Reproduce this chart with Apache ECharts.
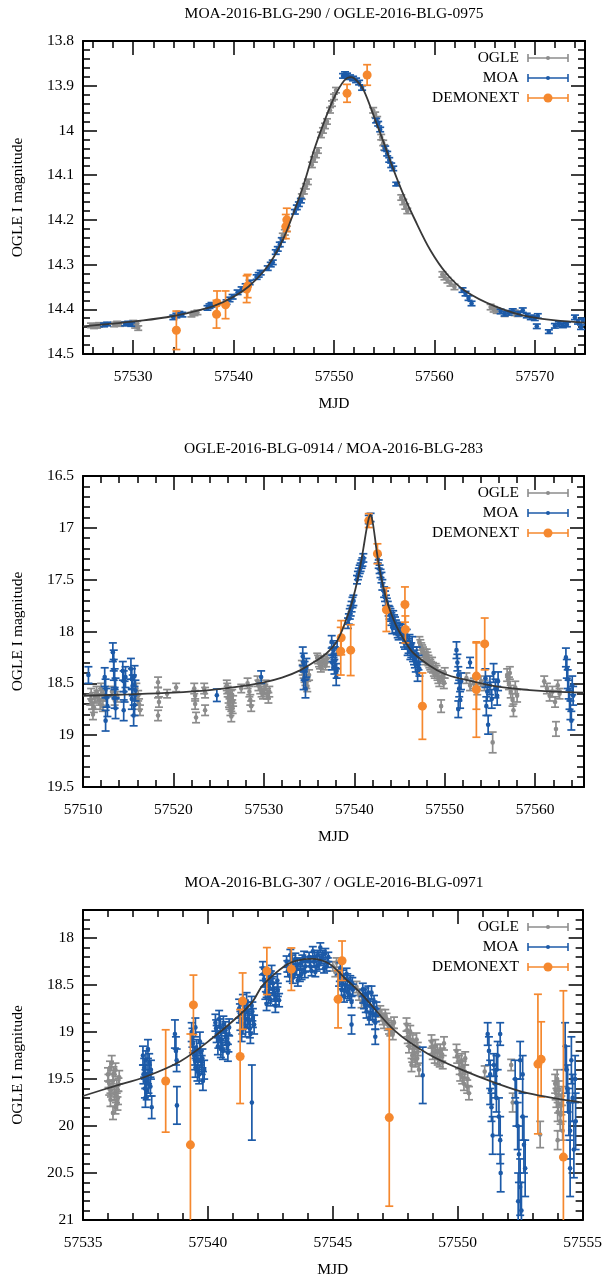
<!DOCTYPE html>
<html>
<head>
<meta charset="utf-8">
<script src="https://cdn.jsdelivr.net/npm/echarts@6.0.0/dist/echarts.min.js"></script>
<style>html,body{margin:0;padding:0;background:#fff}#chart{width:605px;height:1279px}</style>
</head>
<body>
<div id="chart"></div>
<script>
// ---------------- DATA ----------------
const seriesNames = ['OGLE', 'MOA', 'DEMONEXT'];
const titles = ['MOA-2016-BLG-290 / OGLE-2016-BLG-0975', 'OGLE-2016-BLG-0914 / MOA-2016-BLG-283', 'MOA-2016-BLG-307 / OGLE-2016-BLG-0971'];
const xAxisName = 'MJD';
const yAxisName = 'OGLE I magnitude';

// Panel 1
const p1XRange = [57525, 57575];
const p1YRange = [13.8, 14.5];
const p1XTicks = [57530, 57540, 57550, 57560, 57570];
const p1YTicks = [13.8, 13.9, 14, 14.1, 14.2, 14.3, 14.4, 14.5];
const p1Ogle = [
[57525.8,14.436,0.005],[57526.1,14.438,0.005],[57526.4,14.437,0.005],[57526.6,14.435,0.005],
[57528.1,14.434,0.005],[57528.4,14.432,0.005],[57528.7,14.433,0.005],
[57530.0,14.430,0.005],[57530.2,14.437,0.005],[57530.4,14.432,0.005],[57530.5,14.442,0.005],
[57535.8,14.412,0.005],[57536.1,14.409,0.005],[57536.4,14.407,0.005],
[57544.9,14.236,0.006],[57545.1,14.228,0.006],[57545.3,14.220,0.006],
[57546.8,14.148,0.006],[57547.0,14.136,0.006],[57547.2,14.125,0.006],[57547.4,14.115,0.006],
[57547.8,14.077,0.006],[57548.0,14.065,0.006],[57548.2,14.055,0.006],[57548.4,14.045,0.006],
[57548.7,14.010,0.006],[57548.9,14.000,0.006],[57549.1,13.990,0.006],[57549.3,13.980,0.006],
[57549.6,13.955,0.006],[57549.8,13.940,0.006],[57550.0,13.925,0.006],[57550.2,13.910,0.006],
[57553.9,13.955,0.006],[57554.1,13.965,0.006],[57554.3,13.975,0.006],
[57554.7,14.015,0.006],[57554.9,14.028,0.006],[57555.0,14.038,0.006],
[57556.7,14.150,0.006],[57556.9,14.160,0.006],[57557.1,14.170,0.006],[57557.3,14.180,0.006],
[57560.8,14.322,0.006],[57561.0,14.328,0.006],[57561.3,14.335,0.006],[57561.6,14.342,0.006],[57562.0,14.350,0.006],
[57565.6,14.395,0.006],[57565.9,14.400,0.006],[57566.2,14.403,0.006],
[57567.0,14.410,0.006],[57568.0,14.408,0.006],[57568.3,14.410,0.006]
];
const p1Moa = [
[57527.1,14.435,0.004],[57527.4,14.433,0.004],
[57529.2,14.433,0.004],[57529.5,14.431,0.004],[57529.8,14.434,0.004],
[57534.0,14.418,0.005],[57534.3,14.414,0.005],[57534.6,14.410,0.005],[57534.9,14.412,0.005],
[57537.4,14.397,0.005],[57537.6,14.393,0.005],[57537.8,14.390,0.005],
[57539.3,14.384,0.005],[57539.6,14.378,0.005],[57539.9,14.372,0.005],
[57540.4,14.362,0.005],[57540.8,14.355,0.005],[57541.2,14.348,0.005],[57541.6,14.340,0.005],
[57542.3,14.328,0.005],[57542.5,14.323,0.005],[57542.7,14.318,0.005],
[57543.4,14.308,0.005],[57543.7,14.300,0.005],[57543.9,14.295,0.005],
[57544.2,14.272,0.005],[57544.4,14.265,0.005],[57544.6,14.255,0.005],[57544.8,14.245,0.005],
[57546.1,14.182,0.005],[57546.3,14.172,0.005],[57546.5,14.165,0.005],[57546.7,14.157,0.005],
[57550.9,13.878,0.005],[57551.1,13.874,0.005],[57551.3,13.877,0.005],[57551.6,13.881,0.005],[57551.9,13.884,0.005],
[57552.2,13.888,0.005],[57552.5,13.893,0.005],[57552.8,13.905,0.005],
[57554.2,13.978,0.005],[57554.4,13.985,0.005],[57554.6,13.998,0.005],
[57555.1,14.040,0.005],[57555.3,14.052,0.005],[57555.5,14.066,0.005],[57555.7,14.078,0.005],[57555.9,14.085,0.005],
[57556.2,14.120,0.004],
[57562.8,14.357,0.005],[57563.1,14.365,0.005],[57563.4,14.375,0.005],[57563.7,14.387,0.005],
[57566.6,14.405,0.005],[57567.0,14.410,0.005],[57567.4,14.408,0.005],[57567.8,14.404,0.005],[57568.4,14.410,0.005],
[57568.8,14.402,0.005],[57569.2,14.414,0.005],[57569.6,14.418,0.005],[57570.0,14.420,0.005],[57570.3,14.415,0.005],[57570.2,14.438,0.005],
[57571.4,14.450,0.004],
[57572.0,14.437,0.005],[57572.4,14.433,0.005],[57572.8,14.436,0.005],[57573.2,14.434,0.005],
[57574.0,14.418,0.005],[57574.3,14.428,0.005],[57574.6,14.440,0.005],[57574.8,14.425,0.005]
];
const p1Demo = [
[57534.3,14.447,0.043],[57538.3,14.411,0.031],[57538.35,14.386,0.027],[57539.2,14.390,0.031],
[57541.3,14.355,0.030],[57541.4,14.348,0.026],[57545.2,14.215,0.027],[57545.3,14.200,0.026],
[57551.3,13.917,0.020],[57553.3,13.876,0.023]
];
const p1Model = [
[57525,14.438],[57528,14.432],[57531,14.425],[57534,14.415],[57536,14.405],[57538,14.393],[57540,14.372],
[57541.5,14.349],[57543,14.315],[57544,14.283],[57545,14.240],[57546,14.183],[57547,14.120],[57548,14.045],
[57549,13.982],[57550,13.927],[57551,13.889],[57551.7,13.881],[57552.4,13.892],[57553,13.912],[57554,13.970],
[57555,14.030],[57556,14.092],[57557,14.148],[57558,14.197],[57559.6,14.268],[57561.2,14.320],[57563,14.358],
[57566,14.393],[57569.5,14.417],[57575,14.430]
];

// Panel 2
const p2XRange = [57510, 57565.4];
const p2YRange = [16.5, 19.5];
const p2XTicks = [57510, 57520, 57530, 57540, 57550, 57560];
const p2YTicks = [16.5, 17, 17.5, 18, 18.5, 19, 19.5];
const p2Ogle = [
[57510.8,18.66,0.05],[57510.9,18.60,0.05],[57511.0,18.70,0.05],[57511.1,18.80,0.05],[57511.2,18.73,0.05],[57511.3,18.64,0.05],[57511.5,18.58,0.05],[57511.6,18.62,0.05],[57511.8,18.66,0.05],[57511.9,18.70,0.05],[57512.0,18.55,0.05],[57512.1,18.60,0.05],[57512.2,18.72,0.05],[57512.3,18.62,0.05],
[57513.2,18.58,0.05],[57513.5,18.66,0.05],[57513.8,18.63,0.05],
[57515.9,18.55,0.05],[57516.0,18.66,0.05],[57516.1,18.62,0.05],[57516.2,18.70,0.05],[57516.3,18.76,0.05],
[57518.3,18.49,0.05],[57518.3,18.59,0.05],[57518.4,18.68,0.05],[57518.3,18.81,0.05],
[57519.3,18.60,0.04],[57520.3,18.54,0.04],
[57522.3,18.55,0.05],[57522.4,18.62,0.05],[57522.4,18.70,0.05],[57522.5,18.83,0.05],
[57523.4,18.55,0.05],[57523.5,18.59,0.05],[57523.5,18.76,0.05],
[57525.9,18.52,0.05],[57525.95,18.55,0.05],[57526.0,18.58,0.05],[57526.1,18.64,0.05],[57526.15,18.68,0.05],[57526.2,18.70,0.05],[57526.3,18.76,0.05],[57526.35,18.62,0.05],[57526.4,18.82,0.05],[57526.5,18.61,0.05],[57526.55,18.74,0.05],[57526.6,18.67,0.05],
[57527.5,18.55,0.04],
[57528.2,18.50,0.05],[57528.4,18.58,0.05],[57528.5,18.66,0.05],[57528.6,18.72,0.05],
[57529.3,18.48,0.05],[57529.4,18.52,0.05],[57529.6,18.55,0.05],[57529.75,18.58,0.05],[57529.9,18.60,0.05],[57530.05,18.56,0.05],[57530.2,18.52,0.05],[57530.35,18.60,0.05],[57530.5,18.64,0.05],[57530.6,18.58,0.05],
[57534.2,18.33,0.05],[57534.3,18.37,0.05],[57534.4,18.40,0.05],[57534.5,18.44,0.05],[57534.6,18.47,0.05],[57534.7,18.50,0.05],[57534.8,18.53,0.05],[57535.0,18.42,0.05],
[57535.9,18.25,0.04],[57536.0,18.27,0.04],[57536.1,18.30,0.04],[57536.2,18.32,0.04],[57536.3,18.35,0.04],[57536.45,18.30,0.04],[57536.6,18.28,0.04],[57536.8,18.33,0.04],[57536.9,18.30,0.04],[57537.0,18.26,0.04],
[57547.2,18.10,0.05],[57547.3,18.13,0.05],[57547.4,18.16,0.05],[57547.5,18.18,0.05],[57547.6,18.20,0.05],[57547.7,18.22,0.05],[57547.8,18.24,0.05],[57547.9,18.27,0.05],[57548.0,18.22,0.05],[57548.1,18.25,0.05],[57548.2,18.28,0.05],[57548.3,18.30,0.05],[57548.4,18.32,0.05],[57548.5,18.34,0.05],[57548.6,18.30,0.05],[57548.7,18.35,0.05],
[57548.8,18.38,0.05],[57548.9,18.40,0.05],[57549.0,18.36,0.05],[57549.1,18.38,0.05],[57549.2,18.42,0.05],[57549.3,18.45,0.05],[57549.4,18.48,0.05],[57549.6,18.72,0.06],[57549.7,18.43,0.05],[57549.8,18.45,0.05],[57549.9,18.50,0.05],[57550.0,18.40,0.05],
[57552.4,18.45,0.05],[57552.8,18.52,0.05],[57553.2,18.50,0.05],[57553.6,18.56,0.05],[57554.0,18.48,0.05],[57554.4,18.52,0.05],
[57555.3,19.07,0.10],
[57556.9,18.42,0.06],[57557.1,18.50,0.06],[57557.2,18.40,0.06],[57557.3,18.58,0.06],[57557.5,18.66,0.06],[57557.6,18.76,0.06],[57557.8,18.54,0.06],[57558.0,18.62,0.06],
[57561.0,18.48,0.05],[57561.3,18.55,0.05],[57561.6,18.62,0.05],[57561.9,18.58,0.05],[57562.2,18.68,0.05],[57562.3,18.94,0.07],[57562.5,18.52,0.05],[57562.7,18.60,0.05]
];
const p2Moa = [
[57510.6,18.42,0.08],
[57512.4,18.44,0.09],[57512.5,18.55,0.09],[57512.6,18.64,0.09],[57512.5,18.86,0.10],[57512.7,18.72,0.10],
[57513.3,18.20,0.09],[57513.4,18.28,0.10],[57513.4,18.37,0.10],[57513.5,18.46,0.10],[57513.6,18.55,0.10],[57513.5,18.64,0.10],[57513.6,18.74,0.10],
[57514.4,18.38,0.09],[57514.5,18.48,0.10],[57514.7,18.44,0.10],[57514.6,18.58,0.10],[57514.5,18.76,0.10],
[57515.3,18.36,0.10],[57515.4,18.46,0.10],[57515.5,18.52,0.10],[57515.4,18.65,0.10],[57515.6,18.81,0.10],[57515.7,18.43,0.10],[57515.8,18.57,0.10],[57515.7,18.71,0.10],
[57524.8,18.615,0.06],
[57529.7,18.44,0.06],
[57534.3,18.24,0.09],[57534.4,18.30,0.09],[57534.5,18.38,0.09],[57534.4,18.47,0.09],[57534.6,18.55,0.09],[57534.7,18.35,0.09],
[57537.5,18.10,0.06],[57537.55,18.30,0.07],[57537.6,18.22,0.07],[57537.7,18.18,0.07],[57537.8,18.34,0.07],[57537.9,18.28,0.07],[57538.0,18.44,0.08],[57538.05,18.38,0.07],[57538.1,18.16,0.07],
[57539.3,17.92,0.05],[57539.4,17.88,0.05],[57539.5,17.83,0.05],[57539.6,17.80,0.05],[57539.7,17.76,0.05],[57539.8,17.72,0.05],[57539.9,17.70,0.05],
[57540.3,17.50,0.04],[57540.4,17.46,0.04],[57540.5,17.43,0.04],[57540.6,17.40,0.04],[57540.7,17.38,0.04],[57540.8,17.35,0.04],[57540.9,17.33,0.04],[57541.0,17.29,0.04],
[57541.6,16.92,0.04],[57541.8,16.90,0.04],
[57542.6,17.30,0.04],[57542.7,17.35,0.04],[57542.8,17.40,0.04],[57542.9,17.44,0.04],[57543.0,17.48,0.05],[57543.1,17.55,0.05],
[57543.3,17.62,0.05],[57543.4,17.66,0.05],[57543.5,17.70,0.05],[57543.6,17.73,0.05],[57543.7,17.76,0.05],[57543.8,17.80,0.05],[57543.9,17.82,0.06],[57544.0,17.84,0.06],[57544.1,17.88,0.06],[57544.2,17.96,0.06],[57544.3,17.86,0.06],[57544.4,17.90,0.06],[57544.5,17.92,0.06],[57544.6,17.95,0.06],[57544.7,17.97,0.06],[57544.8,18.00,0.06],[57544.9,18.02,0.06],[57545.0,17.98,0.06],
[57545.3,18.00,0.07],[57545.4,18.04,0.07],[57545.5,18.08,0.07],[57545.6,18.10,0.07],[57545.8,18.05,0.07],[57545.9,18.16,0.07],[57546.0,18.14,0.07],[57546.1,18.10,0.07],[57546.2,18.20,0.07],[57546.3,18.18,0.07],[57546.4,18.12,0.07],[57546.5,18.22,0.07],[57546.6,18.25,0.07],[57546.7,18.28,0.07],[57546.8,18.32,0.07],[57546.9,18.22,0.07],[57547.0,18.40,0.08],[57547.1,18.30,0.07],[57547.2,18.36,0.07],
[57551.3,18.18,0.08],[57551.4,18.30,0.08],[57551.5,18.42,0.08],[57551.5,18.75,0.08],[57551.6,18.55,0.08],[57551.7,18.66,0.08],[57551.8,18.48,0.08],
[57552.8,18.30,0.05],
[57554.5,18.45,0.09],[57554.6,18.72,0.09],[57554.7,18.58,0.09],[57554.8,18.90,0.09],[57555.0,18.52,0.09],[57555.2,18.65,0.09],[57555.4,18.40,0.09],[57555.6,18.55,0.09],[57555.8,18.62,0.09],[57555.9,18.48,0.09],
[57563.4,18.25,0.09],[57563.5,18.36,0.09],[57563.6,18.46,0.09],[57563.7,18.56,0.09],[57563.8,18.66,0.09],[57563.9,18.76,0.09],[57564.0,18.86,0.09],[57564.1,18.52,0.09],[57564.2,18.62,0.09]
];
const p2Demo = [
[57538.55,18.06,0.165],[57538.5,18.19,0.23],[57539.6,18.18,0.245],
[57541.6,16.93,0.067],[57542.56,17.25,0.096],[57543.55,17.79,0.21],
[57545.6,17.74,0.17],[57545.65,17.98,0.13],[57547.53,18.72,0.32],
[57553.5,18.43,0.32],[57553.5,18.56,0.46],[57554.42,18.12,0.25]
];
const p2Model = [
[57510,18.62],[57515,18.607],[57520,18.59],[57524,18.566],[57527,18.535],[57530,18.49],[57532,18.445],[57534,18.375],
[57536,18.27],[57537,18.205],[57538,18.105],[57538.7,17.98],[57539.2,17.86],[57539.6,17.76],[57540.1,17.60],[57540.6,17.40],
[57541,17.20],[57541.34,17.02],[57541.6,16.91],[57541.78,16.875],[57542,16.93],[57542.26,17.08],[57542.5,17.24],[57542.8,17.40],
[57543.2,17.57],[57543.55,17.69],[57544,17.81],[57544.66,17.95],[57545.5,18.08],[57546.5,18.205],[57548.34,18.33],[57550,18.41],
[57552,18.46],[57555.7,18.53],[57559.4,18.565],[57562,18.58],[57565.4,18.59]
];

// Panel 3
const p3XRange = [57535, 57555];
const p3YRange = [17.7, 21];
const p3XTicks = [57535, 57540, 57545, 57550, 57555];
const p3YTicks = [18, 18.5, 19, 19.5, 20, 20.5, 21];
const p3Ogle = [
[57536.0,19.45,0.07],[57536.02,19.52,0.07],[57536.05,19.60,0.07],[57536.08,19.38,0.07],[57536.1,19.72,0.07],[57536.12,19.62,0.07],[57536.15,19.33,0.08],[57536.2,19.52,0.07],[57536.22,19.44,0.07],[57536.25,19.65,0.07],[57536.3,19.80,0.07],[57536.32,19.68,0.07],[57536.35,19.58,0.07],[57536.38,19.76,0.07],[57536.4,19.70,0.07],[57536.42,19.56,0.07],[57536.45,19.48,0.07],[57536.2,19.86,0.07],[57536.3,19.40,0.07],
[57545.0,18.30,0.05],[57545.1,18.36,0.05],[57545.15,18.26,0.05],
[57545.95,18.52,0.06],[57546.05,18.60,0.06],[57546.15,18.68,0.06],
[57546.9,18.78,0.06],[57546.95,18.82,0.06],[57547.0,18.86,0.06],[57547.05,18.90,0.06],[57547.1,18.82,0.06],[57547.15,18.86,0.06],[57547.2,18.92,0.06],[57547.25,18.96,0.06],[57547.3,18.98,0.06],[57547.35,18.94,0.06],[57547.4,19.02,0.06],[57547.45,18.90,0.06],
[57547.95,18.92,0.07],[57547.98,18.98,0.07],[57548.0,19.05,0.07],[57548.05,19.15,0.07],[57548.08,19.08,0.07],[57548.1,19.00,0.07],[57548.15,19.35,0.07],[57548.18,19.25,0.07],[57548.2,19.10,0.07],[57548.25,19.22,0.07],[57548.28,19.15,0.07],[57548.3,19.30,0.07],[57548.35,19.08,0.07],[57548.38,19.28,0.07],[57548.4,19.18,0.07],[57548.45,19.40,0.07],
[57548.95,19.10,0.07],[57548.98,19.16,0.07],[57549.0,19.22,0.07],[57549.08,19.26,0.07],[57549.1,19.15,0.07],[57549.18,19.20,0.07],[57549.2,19.28,0.07],[57549.28,19.30,0.07],[57549.3,19.20,0.07],[57549.38,19.24,0.07],[57549.4,19.32,0.07],[57549.45,19.12,0.07],
[57549.95,19.20,0.07],[57549.98,19.26,0.07],[57550.05,19.32,0.07],[57550.08,19.38,0.07],[57550.1,19.45,0.07],[57550.15,19.30,0.07],[57550.18,19.48,0.07],[57550.2,19.38,0.07],[57550.25,19.55,0.07],[57550.28,19.42,0.07],[57550.3,19.28,0.07],[57550.38,19.58,0.07],[57550.4,19.50,0.07],[57550.45,19.65,0.07],
[57551.08,19.42,0.06],[57552.14,19.35,0.06],[57552.2,19.75,0.10],
[57553.3,20.09,0.14],
[57553.9,19.55,0.10],[57553.92,19.62,0.10],[57553.95,19.70,0.10],[57553.98,19.50,0.10],[57554.0,19.85,0.10],[57554.02,19.76,0.10],[57554.05,19.62,0.10],[57554.1,19.95,0.10],[57554.12,19.88,0.10],[57554.15,19.78,0.10],[57554.18,19.68,0.10],[57554.2,20.05,0.10],[57554.0,20.15,0.10]
];
const p3Moa = [
[57537.4,19.25,0.10],[57537.42,19.45,0.10],[57537.45,19.38,0.10],[57537.48,19.60,0.10],[57537.5,19.50,0.10],[57537.52,19.30,0.10],[57537.55,19.62,0.10],[57537.6,19.45,0.10],[57537.62,19.55,0.10],[57537.65,19.33,0.10],[57537.7,19.58,0.10],[57537.72,19.40,0.10],[57537.75,19.80,0.12],[57537.5,19.70,0.10],[57537.6,19.18,0.10],
[57538.68,19.02,0.15],[57538.72,19.20,0.15],[57538.75,19.30,0.12],[57538.76,19.78,0.20],
[57539.35,19.00,0.10],[57539.38,19.06,0.10],[57539.4,19.12,0.10],[57539.45,19.25,0.10],[57539.48,19.30,0.10],[57539.5,19.38,0.10],[57539.55,19.18,0.10],[57539.58,19.42,0.10],[57539.6,19.30,0.10],[57539.65,19.45,0.10],[57539.68,19.10,0.10],[57539.7,19.22,0.10],[57539.75,19.35,0.10],[57539.78,19.28,0.10],[57539.8,19.52,0.10],[57539.85,19.40,0.10],[57539.5,18.95,0.10],
[57540.3,18.90,0.09],[57540.33,18.96,0.09],[57540.35,19.02,0.09],[57540.4,19.15,0.09],[57540.42,19.08,0.09],[57540.5,18.95,0.09],[57540.52,19.18,0.09],[57540.55,19.08,0.09],[57540.6,19.20,0.09],[57540.62,18.92,0.09],[57540.7,18.98,0.09],[57540.72,19.05,0.09],[57540.75,19.10,0.09],[57540.8,19.22,0.09],[57540.82,19.12,0.09],[57540.85,18.95,0.09],[57540.45,18.86,0.09],
[57541.25,18.75,0.10],[57541.28,18.80,0.10],[57541.3,18.88,0.10],[57541.35,19.00,0.10],[57541.38,18.92,0.10],[57541.4,18.70,0.10],[57541.45,18.82,0.10],[57541.48,18.76,0.10],[57541.5,18.95,0.10],[57541.55,18.68,0.10],[57541.58,18.86,0.10],[57541.6,18.78,0.10],[57541.65,18.90,0.10],[57541.68,18.96,0.10],[57541.7,19.02,0.10],[57541.75,18.72,0.10],[57541.78,18.78,0.10],[57541.8,18.85,0.10],[57541.85,18.92,0.10],
[57541.76,19.75,0.40],
[57542.2,18.32,0.07],[57542.22,18.38,0.07],[57542.25,18.45,0.07],[57542.3,18.58,0.07],[57542.32,18.50,0.07],[57542.35,18.70,0.07],[57542.4,18.40,0.07],[57542.42,18.62,0.07],[57542.45,18.52,0.07],[57542.5,18.65,0.07],[57542.52,18.42,0.07],[57542.55,18.36,0.07],[57542.6,18.48,0.07],[57542.62,18.54,0.07],[57542.65,18.60,0.07],[57542.7,18.72,0.07],[57542.72,18.64,0.07],[57542.78,18.45,0.07],[57542.8,18.55,0.07],[57542.85,18.66,0.07],
[57543.15,18.25,0.06],[57543.18,18.30,0.06],[57543.2,18.35,0.06],[57543.28,18.40,0.06],[57543.3,18.18,0.06],[57543.35,18.30,0.06],[57543.38,18.24,0.06],[57543.4,18.42,0.06],[57543.48,18.36,0.06],[57543.5,18.22,0.06],[57543.55,18.33,0.06],[57543.58,18.28,0.06],[57543.6,18.45,0.06],[57543.68,18.40,0.06],[57543.7,18.27,0.06],[57543.75,18.38,0.06],[57543.78,18.24,0.06],[57543.85,18.20,0.06],[57543.88,18.36,0.06],[57543.9,18.30,0.06],
[57544.05,18.20,0.05],[57544.08,18.25,0.05],[57544.1,18.30,0.05],[57544.15,18.35,0.05],[57544.2,18.14,0.05],[57544.25,18.25,0.05],[57544.28,18.20,0.05],[57544.3,18.36,0.05],[57544.35,18.30,0.05],[57544.4,18.18,0.05],[57544.45,18.28,0.05],[57544.48,18.24,0.05],[57544.5,18.10,0.05],[57544.55,18.22,0.05],[57544.6,18.18,0.05],[57544.65,18.32,0.05],[57544.7,18.16,0.05],[57544.75,18.30,0.05],[57544.8,18.26,0.05],[57544.82,18.20,0.05],
[57545.25,18.45,0.06],[57545.28,18.40,0.06],[57545.3,18.32,0.06],[57545.35,18.55,0.06],[57545.38,18.48,0.06],[57545.4,18.40,0.06],[57545.45,18.62,0.06],[57545.48,18.56,0.06],[57545.5,18.50,0.06],[57545.55,18.38,0.06],[57545.58,18.44,0.06],[57545.6,18.58,0.06],[57545.68,18.60,0.06],[57545.7,18.46,0.06],[57545.75,18.68,0.06],[57545.78,18.48,0.06],[57545.8,18.55,0.06],[57545.75,18.92,0.10],
[57546.2,18.55,0.07],[57546.22,18.62,0.07],[57546.25,18.68,0.07],[57546.3,18.60,0.07],[57546.32,18.72,0.07],[57546.35,18.78,0.07],[57546.4,18.65,0.07],[57546.42,18.58,0.07],[57546.45,18.85,0.07],[57546.5,18.72,0.07],[57546.52,18.80,0.07],[57546.55,18.58,0.07],[57546.6,18.80,0.07],[57546.62,18.74,0.07],[57546.65,18.68,0.07],[57546.7,18.90,0.07],[57546.72,18.82,0.07],[57546.7,19.05,0.08],[57546.75,18.75,0.07],
[57548.6,19.46,0.30],
[57551.2,19.02,0.12],[57551.25,19.20,0.15],[57551.3,19.45,0.15],[57551.3,19.62,0.15],[57551.35,19.80,0.15],[57551.4,20.10,0.20],[57551.45,19.35,0.12],[57551.5,19.55,0.15],[57551.55,19.70,0.15],[57551.55,19.40,0.15],[57551.6,19.25,0.15],[57551.65,19.90,0.20],[57551.7,20.15,0.25],[57551.72,20.50,0.20],[57551.7,19.02,0.12],
[57552.3,19.50,0.20],[57552.35,19.75,0.25],[57552.4,20.00,0.25],[57552.42,20.80,0.30],[57552.45,20.30,0.30],[57552.5,20.65,0.30],[57552.5,19.30,0.20],[57552.55,20.90,0.30],[57552.6,19.45,0.20],[57552.6,19.90,0.25],[57552.65,20.20,0.30],[57552.7,20.45,0.30],
[57554.3,19.15,0.25],[57554.35,19.40,0.25],[57554.4,19.60,0.25],[57554.45,19.85,0.25],[57554.5,20.05,0.30],[57554.5,20.45,0.30],[57554.55,19.30,0.25],[57554.6,19.70,0.25],[57554.65,20.25,0.30],[57554.7,19.50,0.25],[57554.72,19.95,0.30]
];
const p3Demo = [
[57538.31,19.52,0.545],[57539.3,20.2,1.18],[57539.42,18.71,0.317],
[57541.29,19.26,0.50],[57541.39,18.67,0.30],[57542.36,18.35,0.25],[57543.34,18.33,0.226],
[57545.21,18.65,0.305],[57545.37,18.24,0.21],[57547.26,19.91,0.943],
[57553.21,19.34,0.743],[57553.34,19.29,0.40],[57554.23,20.33,1.77]
];
const p3Model = [
[57535,19.68],[57536.2,19.58],[57537.5,19.475],[57538.9,19.31],[57540.2,19.06],[57541.3,18.81],[57541.8,18.67],[57542.2,18.50],
[57543.1,18.29],[57543.6,18.235],[57544.18,18.22],[57544.84,18.27],[57545.5,18.43],[57546.17,18.60],[57547.5,18.99],[57548.8,19.23],
[57550.15,19.40],[57551.5,19.54],[57552.8,19.65],[57555,19.75]
];

// ---------------- STYLE / LAYOUT ----------------
const FONT = '"Liberation Serif", "Times New Roman", serif';
const FS = 15.5;
const C = { ogle: '#8c8c8c', moa: '#1c5aa8', demo: '#f5882e', model: '#383838', text: '#000' };
const GRIDS = [
  { left: 83, top: 41, width: 502, height: 313 },
  { left: 83, top: 476, width: 501, height: 311 },
  { left: 83, top: 910, width: 502, height: 316 }
];
const PANELS = [
  { xr: p1XRange, yr: p1YRange, xt: p1XTicks, yt: p1YTicks, xStep: 2, yStep: 0.02, ogle: p1Ogle, moa: p1Moa, demo: p1Demo, model: p1Model },
  { xr: p2XRange, yr: p2YRange, xt: p2XTicks, yt: p2YTicks, xStep: 2, yStep: 0.1, ogle: p2Ogle, moa: p2Moa, demo: p2Demo, model: p2Model },
  { xr: p3XRange, yr: p3YRange, xt: p3XTicks, yt: p3YTicks, xStep: 1, yStep: 0.1, ogle: p3Ogle, moa: p3Moa, demo: p3Demo, model: p3Model }
];

function minorValues(lo, hi, step, majors) {
  const out = [];
  const n0 = Math.ceil(lo / step - 1e-6), n1 = Math.floor(hi / step + 1e-6);
  for (let n = n0; n <= n1; n++) {
    const v = +(n * step).toFixed(6);
    if (Math.abs(v - lo) < 1e-6 || Math.abs(v - hi) < 1e-6) continue;
    if (majors.some(m => Math.abs(m - v) < 1e-6)) continue;
    out.push(v);
  }
  return out;
}

const lineSt = { color: '#000', width: 2 };
const tickSt = { color: '#000', width: 1.5 };
const labelSt = { color: C.text, fontFamily: FONT, fontSize: FS };

function xAxisDef(g, p, pos, major, withLabel) {
  const vals = major ? p.xt : minorValues(p.xr[0], p.xr[1], p.xStep, p.xt);
  const a = {
    gridIndex: g, type: 'value', position: pos, min: p.xr[0], max: p.xr[1],
    axisLine: { show: major, onZero: false, lineStyle: lineSt },
    axisTick: { show: true, inside: true, length: major ? 14 : 7, customValues: vals, lineStyle: tickSt },
    axisLabel: withLabel ? Object.assign({ show: true, customValues: p.xt, margin: 15, formatter: v => String(v) }, labelSt) : { show: false },
    splitLine: { show: false }, minorTick: { show: false }, axisPointer: { show: false }
  };
  if (withLabel) {
    a.name = xAxisName; a.nameLocation = 'middle'; a.nameGap = 42;
    a.nameTextStyle = labelSt;
  }
  return a;
}
function yAxisDef(g, p, pos, major, withLabel) {
  const vals = major ? p.yt : minorValues(p.yr[0], p.yr[1], p.yStep, p.yt);
  const a = {
    gridIndex: g, type: 'value', position: pos, inverse: true, min: p.yr[0], max: p.yr[1],
    axisLine: { show: major, onZero: false, lineStyle: lineSt },
    axisTick: { show: true, inside: true, length: major ? 14 : 7, customValues: vals, lineStyle: tickSt },
    axisLabel: withLabel ? Object.assign({ show: true, customValues: p.yt, margin: 9, formatter: v => String(v) }, labelSt) : { show: false },
    splitLine: { show: false }, minorTick: { show: false }, axisPointer: { show: false }
  };
  if (withLabel) {
    a.name = yAxisName; a.nameLocation = 'middle'; a.nameGap = 57;
    a.nameTextStyle = labelSt;
  }
  return a;
}

function errRender(color, r, cap, lw) {
  return function (params, api) {
    const cs = params.coordSys;
    const x = api.value(0), y = api.value(1), e = api.value(2);
    const p = api.coord([x, y]);
    const a = api.coord([x, y - e]);
    const b = api.coord([x, y + e]);
    const top = Math.min(a[1], b[1]), bot = Math.max(a[1], b[1]);
    const y0 = cs.y, y1 = cs.y + cs.height;
    const st = { stroke: color, lineWidth: lw };
    const ch = [];
    const lt = Math.max(top, y0), lb = Math.min(bot, y1);
    if (lb > lt) ch.push({ type: 'line', shape: { x1: p[0], y1: lt, x2: p[0], y2: lb }, style: st });
    if (top >= y0 && top <= y1) ch.push({ type: 'line', shape: { x1: p[0] - cap, y1: top, x2: p[0] + cap, y2: top }, style: st });
    if (bot >= y0 && bot <= y1) ch.push({ type: 'line', shape: { x1: p[0] - cap, y1: bot, x2: p[0] + cap, y2: bot }, style: st });
    if (p[1] >= y0 && p[1] <= y1) ch.push({ type: 'circle', shape: { cx: p[0], cy: p[1], r: r }, style: { fill: color } });
    return { type: 'group', children: ch };
  };
}

const xAxes = [], yAxes = [], series = [], graphics = [];
PANELS.forEach((p, g) => {
  xAxes.push(xAxisDef(g, p, 'bottom', true, true));
  xAxes.push(xAxisDef(g, p, 'bottom', false, false));
  xAxes.push(xAxisDef(g, p, 'top', true, false));
  xAxes.push(xAxisDef(g, p, 'top', false, false));
  yAxes.push(yAxisDef(g, p, 'left', true, true));
  yAxes.push(yAxisDef(g, p, 'left', false, false));
  yAxes.push(yAxisDef(g, p, 'right', true, false));
  yAxes.push(yAxisDef(g, p, 'right', false, false));
  const ax = { xAxisIndex: 4 * g, yAxisIndex: 4 * g };
  const defs = [
    { name: seriesNames[0], data: p.ogle, color: C.ogle, r: 2.3, cap: 4, z: 2 },
    { name: seriesNames[1], data: p.moa, color: C.moa, r: 2.3, cap: 4, z: 3 },
    { name: seriesNames[2], data: p.demo, color: C.demo, r: 4.5, cap: 4, z: 4 }
  ];
  defs.forEach(d => {
    series.push(Object.assign({
      type: 'custom', name: d.name, data: d.data, clip: true, z: d.z,
      dimensions: ['mjd', 'mag', 'err'], encode: { x: 0, y: 1 },
      renderItem: errRender(d.color, d.r, d.cap, 1.7), silent: true
    }, ax));
  });
  series.push(Object.assign({
    type: 'line', name: 'model', data: p.model, smooth: 0.35, showSymbol: false, symbol: 'none',
    lineStyle: { color: C.model, width: 1.8 }, z: 5, silent: true, clip: true
  }, ax));

  const G = GRIDS[g];
  graphics.push({ type: 'text', x: G.left + G.width / 2, y: G.top - 27, z: 10,
    style: { text: titles[g], fill: C.text, font: FS + 'px ' + FONT, align: 'center', verticalAlign: 'middle' } });
  const rows = [
    { label: seriesNames[0], color: C.ogle, r: 2 },
    { label: seriesNames[1], color: C.moa, r: 2 },
    { label: seriesNames[2], color: C.demo, r: 4.5 }
  ];
  rows.forEach((row, i) => {
    const yy = G.top + 17 + 20 * i;
    const st = { stroke: row.color, lineWidth: 1.6 };
    graphics.push({ type: 'text', x: 519, y: yy, z: 10,
      style: { text: row.label, fill: C.text, font: FS + 'px ' + FONT, align: 'right', verticalAlign: 'middle' } });
    graphics.push({ type: 'line', z: 10, shape: { x1: 528, y1: yy, x2: 568, y2: yy }, style: st });
    graphics.push({ type: 'line', z: 10, shape: { x1: 528, y1: yy - 4, x2: 528, y2: yy + 4 }, style: st });
    graphics.push({ type: 'line', z: 10, shape: { x1: 568, y1: yy - 4, x2: 568, y2: yy + 4 }, style: st });
    graphics.push({ type: 'circle', z: 10, shape: { cx: 548, cy: yy, r: row.r }, style: { fill: row.color } });
  });
});

const chart = echarts.init(document.getElementById('chart'), null, { renderer: 'canvas', width: 605, height: 1279 });
chart.setOption({
  animation: false,
  backgroundColor: '#fff',
  grid: GRIDS.map(G => Object.assign({ containLabel: false }, G)),
  xAxis: xAxes,
  yAxis: yAxes,
  series: series,
  graphic: { elements: graphics }
});
</script>
</body>
</html>
